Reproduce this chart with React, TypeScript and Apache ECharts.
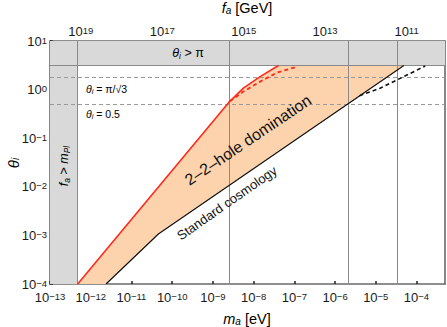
import React, { useEffect, useRef } from "react";
import * as echarts from "echarts";

// log10 values
const xTicks = [-13, -12, -11, -10, -9, -8, -7, -6, -5, -4];
const yTicks = [-4, -3, -2, -1, 0, 1];
const faTicks = [11, 13, 15, 17, 19];
const xMin = -13;
const xMax = -3.3;
const yMin = -4;
const yMax = 1;
// f_a [GeV] = 5.7e6 / m_a [eV]
const faOffset = Math.log10(5.7e6);
const mPlGeV = 1.22e19;

const redSolid = [[-12.32, -4], [-8.585, -0.241], [-8.251, 0.029], [-7.84, 0.266], [-7.39, 0.497]];
const redDashed = [[-8.585, -0.241], [-8.251, -0.041], [-7.84, 0.164], [-7.43, 0.348], [-6.94, 0.47]];
const blackSolid = [[-11.624, -4], [-10.339, -2.971], [-4.31, 0.497]];
const blackDashed = [[-5.4, -0.126], [-4.892, 0.029], [-4.482, 0.198], [-3.786, 0.485]];
const vLines = [-8.595, -5.67, -4.48];
const thetaPi = Math.log10(Math.PI);
const thetaDashed = [Math.log10(Math.PI / Math.sqrt(3)), Math.log10(0.5)];

const FONT = "Liberation Sans, Arial, sans-serif";

const powRich = {
  b: { fontSize: 13, lineHeight: 14, fontFamily: FONT, color: "#1a1a1a" },
  s: { fontSize: 9.5, lineHeight: 10, fontFamily: FONT, color: "#1a1a1a", verticalAlign: "top" as const, padding: [1, 0, 0, 0] },
};
const pow = (v: number) => `{b|10}{s|${v < 0 ? "−" : ""}${Math.abs(Math.round(v))}}`;

export default function App() {
  const ref = useRef<HTMLDivElement>(null);
  useEffect(() => {
    if (!ref.current) return;
    const chart = echarts.init(ref.current, null, { renderer: "svg" });
    const mPlX = faOffset - Math.log10(mPlGeV);
    const bands = [
      [xMin, thetaPi, xMax, yMax],
      [xMin, yMin, mPlX, yMax],
    ];
    const fillPoly = [...redSolid, ...[...blackSolid].reverse()];
    const greekRich = {
      it: { fontStyle: "italic" as const, fontFamily: FONT, fontSize: 12.5, color: "#222" },
      sub: { fontStyle: "italic" as const, fontFamily: FONT, fontSize: 8.5, color: "#222", verticalAlign: "bottom" as const, padding: [5, 0, 0, 0] },
      n: { fontFamily: FONT, fontSize: 12.5, color: "#222" },
    };
    const smallRich = {
      it: { fontStyle: "italic" as const, fontFamily: FONT, fontSize: 10.5, color: "#222" },
      sub: { fontStyle: "italic" as const, fontFamily: FONT, fontSize: 7.5, color: "#222", verticalAlign: "bottom" as const, padding: [5, 0, 0, 0] },
      n: { fontFamily: FONT, fontSize: 10.5, color: "#222" },
    };
    const titleRich = {
      it: { fontStyle: "italic" as const, fontFamily: FONT, fontSize: 14.5, color: "#222" },
      sub: { fontStyle: "italic" as const, fontFamily: FONT, fontSize: 10, color: "#222", verticalAlign: "bottom" as const, padding: [5, 0, 0, 0] },
      n: { fontFamily: FONT, fontSize: 14.5, color: "#222" },
    };
    const axisCommon = {
      axisLine: { show: true, onZero: false, lineStyle: { color: "#6a6a6a", width: 1.6 } },
      splitLine: { show: false },
    };
    chart.setOption({
      animation: false,
      grid: { left: 50, right: 2, top: 41, bottom: 43 },
      xAxis: [
        {
          type: "value", min: xMin, max: xMax, position: "bottom", ...axisCommon,
          axisTick: { show: true, inside: true, length: 3, customValues: xTicks, lineStyle: { color: "#222", width: 1.5 } },
          axisLabel: { customValues: xTicks, formatter: pow, rich: powRich, margin: 6 },
        },
        {
          type: "value", min: faOffset - xMax, max: faOffset - xMin, inverse: true, position: "top", ...axisCommon,
          axisTick: { show: true, inside: true, length: 3, customValues: faTicks, lineStyle: { color: "#222", width: 1.5 } },
          axisLabel: { customValues: faTicks, formatter: pow, rich: powRich, margin: 3 },
        },
      ],
      yAxis: [
        {
          type: "value", min: yMin, max: yMax, position: "left", ...axisCommon,
          axisTick: { show: true, inside: true, length: 3, customValues: yTicks, lineStyle: { color: "#222", width: 1.5 } },
          axisLabel: { customValues: yTicks, formatter: pow, rich: powRich, margin: 3 },
        },
        {
          type: "value", min: yMin, max: yMax, position: "right", ...axisCommon,
          axisTick: { show: false }, axisLabel: { show: false },
        },
      ],
      series: [
        {
          type: "custom",
          name: "bands",
          silent: true,
          data: bands,
          encode: { x: [0, 2], y: [1, 3] },
          renderItem: (params: any, api: any) => {
            const p0 = api.coord([api.value(0), api.value(3)]);
            const p1 = api.coord([api.value(2), api.value(1)]);
            return {
              type: "rect",
              shape: { x: p0[0], y: p0[1], width: p1[0] - p0[0], height: p1[1] - p0[1] },
              style: { fill: "#d9d9d9" },
            };
          },
          z: 1,
        },
        {
          type: "custom",
          name: "fill",
          silent: true,
          data: [[0, 0]],
          renderItem: (params: any, api: any) => ({
            type: "polygon",
            shape: { points: fillPoly.map((p) => api.coord(p)) },
            style: { fill: "#fcd3ad" },
          }),
          z: 2,
        },
        {
          type: "line",
          name: "grid",
          data: [],
          z: 3,
          markLine: {
            silent: true,
            symbol: "none",
            label: { show: false },
            animation: false,
            data: [
              ...vLines.map((v) => ({ xAxis: v, lineStyle: { color: "#8a8a8a", width: 1, type: "solid" } })),
              { xAxis: mPlX, lineStyle: { color: "#8a8a8a", width: 1, type: "solid" } },
              { yAxis: thetaPi, lineStyle: { color: "#8a8a8a", width: 1, type: "solid" } },
              ...thetaDashed.map((v) => ({ yAxis: v, lineStyle: { color: "#9a9a9a", width: 1, type: [4, 3] } })),
            ],
          },
        },
        {
          type: "line", name: "red", data: redSolid, showSymbol: false, z: 5,
          lineStyle: { color: "#ff2a1a", width: 1.6 },
        },
        {
          type: "line", name: "redDashed", data: redDashed, showSymbol: false, z: 5,
          lineStyle: { color: "#ff2a1a", width: 1.8, type: [4, 3] },
        },
        {
          type: "line", name: "black", data: blackSolid, showSymbol: false, z: 5,
          lineStyle: { color: "#111", width: 1.2 },
        },
        {
          type: "line", name: "blackDashed", data: blackDashed, showSymbol: false, z: 5,
          lineStyle: { color: "#111", width: 1.6, type: [4, 3] },
        },
      ],
      graphic: [
        {
          type: "text", x: 247, y: 319, z: 100,
          style: { text: "{it|m}{sub|a}{n| [eV]}", rich: titleRich, align: "center", verticalAlign: "middle" },
        },
        {
          type: "text", x: 247, y: 8, z: 100,
          style: { text: "{it|f}{sub|a}{n| [GeV]}", rich: titleRich, align: "center", verticalAlign: "middle" },
        },
        {
          type: "text", x: 13, y: 163, rotation: Math.PI / 2, z: 100,
          style: { text: "{it|θ}{sub|i}", rich: { ...titleRich, it: { ...titleRich.it, fontSize: 15 } }, align: "center", verticalAlign: "middle" },
        },
        {
          type: "text", x: 188, y: 53, z: 100,
          style: { text: "{it|θ}{sub|i}{n| > π}", rich: greekRich, align: "center", verticalAlign: "middle" },
        },
        {
          type: "text", x: 86, y: 89, z: 100,
          style: { text: "{it|θ}{sub|i}{n| = π/√3}", rich: smallRich, align: "left", verticalAlign: "middle" },
        },
        {
          type: "text", x: 86, y: 114, z: 100,
          style: { text: "{it|θ}{sub|i}{n| = 0.5}", rich: smallRich, align: "left", verticalAlign: "middle" },
        },
        {
          type: "text", x: 64, y: 166, rotation: Math.PI / 2, z: 100,
          style: { text: "{it|f}{sub|a}{n| > }{it|m}{sub|Pl}", rich: greekRich, align: "center", verticalAlign: "middle" },
        },
        {
          type: "text", x: 248, y: 140, rotation: (34 * Math.PI) / 180, z: 100,
          style: { text: "2–2–hole domination", font: `16px ${FONT}`, fill: "#111", align: "center", verticalAlign: "middle" },
        },
        {
          type: "text", x: 227, y: 203, rotation: (35 * Math.PI) / 180, z: 100,
          style: { text: "Standard cosmology", font: `13px ${FONT}`, fill: "#111", align: "center", verticalAlign: "middle" },
        },
      ],
    });
    return () => chart.dispose();
  }, []);
  return <div ref={ref} style={{ width: 447, height: 327, position: "absolute", left: 0, top: 0 }} />;
}
